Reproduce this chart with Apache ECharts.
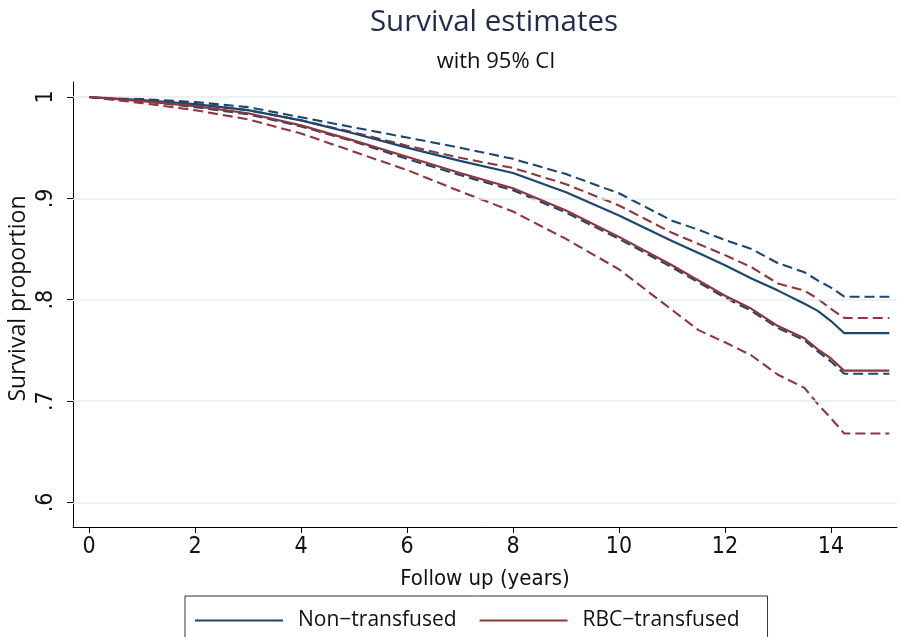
<!DOCTYPE html>
<html>
<head>
<meta charset="utf-8">
<title>Survival estimates</title>
<script src="https://cdn.jsdelivr.net/npm/echarts@6/dist/echarts.min.js"></script>
<style>
  html, body { margin: 0; padding: 0; background: #fff; }
  #chart { width: 900px; height: 637px; }
</style>
</head>
<body>
<div id="chart"></div>
<script>
// Follow-up time points (years)
const years = [0, 1, 2, 3, 4, 5, 6, 7, 8, 9, 10, 11, 11.5, 12, 12.5, 13, 13.5, 13.75, 14, 14.25, 15.1];

// Non-transfused: Kaplan-Meier estimate with 95% CI bounds
const nonEst   = [1.000, 0.997, 0.993, 0.987, 0.977, 0.964, 0.950, 0.937, 0.925, 0.906, 0.883, 0.858, 0.846, 0.834, 0.821, 0.809, 0.796, 0.789, 0.779, 0.767, 0.767];
const nonUpper = [1.000, 0.998, 0.995, 0.990, 0.980, 0.970, 0.960, 0.950, 0.939, 0.924, 0.905, 0.878, 0.869, 0.859, 0.850, 0.836, 0.827, 0.819, 0.812, 0.803, 0.803];
const nonLower = [1.000, 0.996, 0.990, 0.983, 0.971, 0.956, 0.939, 0.923, 0.908, 0.886, 0.860, 0.832, 0.817, 0.802, 0.789, 0.772, 0.760, 0.749, 0.739, 0.727, 0.727];

// RBC-transfused: Kaplan-Meier estimate with 95% CI bounds
const rbcEst   = [1.000, 0.996, 0.991, 0.984, 0.972, 0.957, 0.941, 0.925, 0.910, 0.888, 0.862, 0.834, 0.819, 0.804, 0.791, 0.774, 0.762, 0.751, 0.742, 0.730, 0.730];
const rbcUpper = [1.000, 0.997, 0.993, 0.987, 0.977, 0.965, 0.952, 0.940, 0.930, 0.914, 0.893, 0.866, 0.855, 0.844, 0.832, 0.816, 0.809, 0.801, 0.791, 0.782, 0.782];
const rbcLower = [1.000, 0.994, 0.987, 0.978, 0.964, 0.946, 0.928, 0.907, 0.887, 0.860, 0.830, 0.790, 0.770, 0.758, 0.745, 0.726, 0.713, 0.697, 0.683, 0.668, 0.668];

// Axis ticks and their labels
const xTicks = [0, 2, 4, 6, 8, 10, 12, 14];
const yTicks = [0.6, 0.7, 0.8, 0.9, 1];
const yTickLabels = ['.6', '.7', '.8', '.9', '1'];

const NAVY = '#1a476f';
const MAROON = '#90353b';
const narrowFont = "'Liberation Sans Narrow', 'DejaVu Sans Condensed', sans-serif";
const textFont = "'Open Sans', 'Noto Sans', sans-serif";

const pairs = vals => years.map((t, i) => [t, vals[i]]);

function curve(name, vals, color, dashed, z) {
  return {
    name: name,
    type: 'line',
    data: pairs(vals),
    showSymbol: false,
    symbol: 'none',
    color: color,
    z: z,
    lineStyle: { color: color, width: dashed ? 2.1 : 2.2, type: dashed ? [10, 5] : 'solid' },
    emphasis: { disabled: true }
  };
}

const chart = echarts.init(document.getElementById('chart'), null, { renderer: 'canvas' });

chart.setOption({
  animation: false,
  backgroundColor: '#ffffff',
  title: [
    {
      text: 'Survival estimates',
      left: 489, top: 3, textAlign: 'center',
      textStyle: { fontFamily: textFont, fontSize: 29.5, fontWeight: 'normal', color: '#1e2c4c' }
    },
    {
      text: 'with 95% CI',
      left: 491, top: 46, textAlign: 'center',
      textStyle: { fontFamily: textFont, fontSize: 22, fontWeight: 'normal', color: '#111' }
    }
  ],
  grid: { left: 73, right: 3, top: 82, bottom: 110, containLabel: false, outerBoundsMode: 'none' },
  xAxis: {
    type: 'value',
    min: -0.302,
    max: 15.245,
    name: 'Follow up (years)',
    nameLocation: 'middle',
    nameGap: 41,
    nameMoveOverlap: false,
    nameTextStyle: { fontFamily: narrowFont, fontSize: 22, color: '#111' },
    axisLine: { show: true, onZero: false, lineStyle: { color: '#000', width: 1 } },
    axisTick: { show: true, customValues: xTicks, length: 6, lineStyle: { color: '#000' } },
    axisLabel: { customValues: xTicks, margin: 9, fontFamily: narrowFont, fontSize: 23, color: '#111' },
    splitLine: { show: false }
  },
  yAxis: {
    type: 'value',
    min: 0.5758,
    max: 1.0148,
    name: 'Survival proportion',
    nameLocation: 'middle',
    nameGap: 43,
    nameMoveOverlap: false,
    nameTextStyle: { fontFamily: textFont, fontSize: 23, color: '#111', padding: [0, 0, 0, 12] },
    axisLine: { show: true, onZero: false, lineStyle: { color: '#000', width: 1 } },
    axisTick: { show: true, customValues: yTicks, length: 6, lineStyle: { color: '#000' } },
    axisLabel: {
      customValues: yTicks,
      rotate: 90,
      margin: 15,
      fontFamily: narrowFont,
      fontSize: 23,
      color: '#111',
      formatter: v => {
        const i = yTicks.findIndex(t => Math.abs(t - v) < 1e-6);
        return i >= 0 ? yTickLabels[i] : '';
      }
    },
    splitLine: { show: false }
  },
  legend: {
    data: ['Non\u2212transfused', 'RBC\u2212transfused'],
    left: 185,
    top: 596,
    orient: 'horizontal',
    icon: 'rect',
    itemWidth: 88,
    itemHeight: 2,
    itemGap: 23,
    padding: [14, 28, 14, 10],
    borderColor: '#333',
    borderWidth: 1,
    selectedMode: false,
    textStyle: { fontFamily: textFont, fontSize: 21, color: '#111', padding: [0, 0, 0, 10] }
  },
  series: [
    {
      // horizontal reference lines at the y ticks
      name: 'gridlines',
      type: 'line',
      data: [],
      silent: true,
      z: 1,
      markLine: {
        silent: true,
        symbol: 'none',
        label: { show: false },
        lineStyle: { color: '#e6edef', width: 1.5, type: 'solid' },
        data: yTicks.map(v => ({ yAxis: v }))
      }
    },
    curve('Non\u2212transfused upper 95% CI', nonUpper, NAVY, true, 3),
    curve('Non\u2212transfused lower 95% CI', nonLower, NAVY, true, 3),
    curve('RBC\u2212transfused upper 95% CI', rbcUpper, MAROON, true, 4),
    curve('RBC\u2212transfused lower 95% CI', rbcLower, MAROON, true, 4),
    curve('Non\u2212transfused', nonEst, NAVY, false, 5),
    curve('RBC\u2212transfused', rbcEst, MAROON, false, 6)
  ]
});
</script>
</body>
</html>
